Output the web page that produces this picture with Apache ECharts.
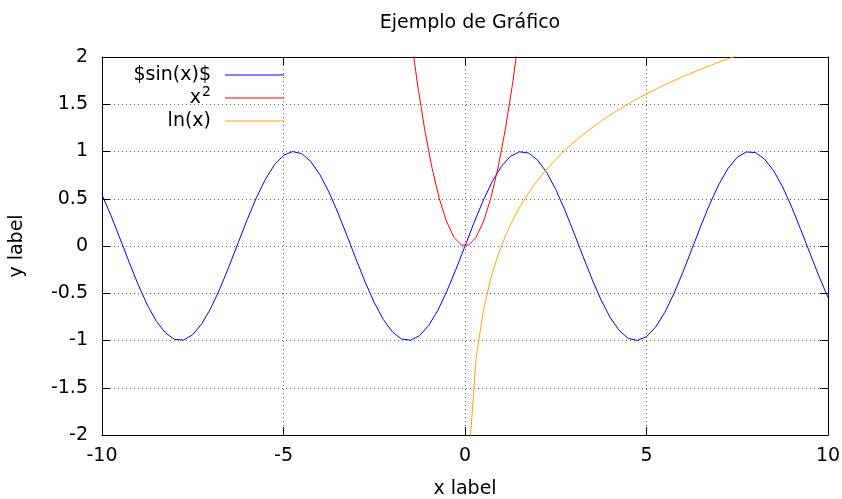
<!DOCTYPE html>
<html>
<head>
<meta charset="utf-8">
<script src="https://cdn.jsdelivr.net/npm/echarts@6/dist/echarts.min.js"></script>
<style>html,body{margin:0;padding:0;background:#fff;overflow:hidden}#c{width:842px;height:499px}</style>
</head>
<body>
<div id="c"></div>
<script>
// sin(x) sampled every 0.25
var sinX = [-10,-9.75,-9.5,-9.25,-9,-8.75,-8.5,-8.25,-8,-7.75,-7.5,-7.25,-7,-6.75,-6.5,-6.25,-6,-5.75,-5.5,-5.25,-5,-4.75,-4.5,-4.25,-4,-3.75,-3.5,-3.25,-3,-2.75,-2.5,-2.25,-2,-1.75,-1.5,-1.25,-1,-0.75,-0.5,-0.25,0,0.25,0.5,0.75,1,1.25,1.5,1.75,2,2.25,2.5,2.75,3,3.25,3.5,3.75,4,4.25,4.5,4.75,5,5.25,5.5,5.75,6,6.25,6.5,6.75,7,7.25,7.5,7.75,8,8.25,8.5,8.75,9,9.25,9.5,9.75,10];
var sinY = [0.544,0.319,0.075,-0.173,-0.412,-0.625,-0.798,-0.920,-0.989,-0.995,-0.938,-0.823,-0.657,-0.450,-0.215,0.033,0.279,0.508,0.706,0.859,0.959,0.999,0.978,0.895,0.757,0.572,0.351,0.108,-0.141,-0.382,-0.598,-0.778,-0.909,-0.984,-0.997,-0.949,-0.841,-0.682,-0.479,-0.247,0,0.247,0.479,0.682,0.841,0.949,0.997,0.984,0.909,0.778,0.598,0.382,0.141,-0.108,-0.351,-0.572,-0.757,-0.895,-0.978,-0.999,-0.959,-0.859,-0.706,-0.508,-0.279,-0.033,0.215,0.450,0.657,0.823,0.938,0.995,0.989,0.920,0.798,0.625,0.412,0.173,-0.075,-0.319,-0.544];
// x^2
var sqX = [-1.717,-1.515,-1.313,-1.111,-0.909,-0.707,-0.505,-0.303,-0.101,0.101,0.303,0.505,0.707,0.909,1.111,1.313,1.515,1.717];
var sqY = [2.948,2.296,1.724,1.235,0.826,0.500,0.255,0.092,0.010,0.010,0.092,0.255,0.500,0.826,1.235,1.724,2.296,2.948];
// ln(x)
var lnX = [0.101,0.303,0.505,0.707,0.909,1.111,1.313,1.515,1.717,1.919,2.121,2.323,2.525,2.727,2.929,3.131,3.333,3.535,3.737,3.939,4.141,4.343,4.545,4.747,4.949,5.152,5.354,5.556,5.758,5.960,6.162,6.364,6.566,6.768,6.970,7.172,7.374,7.576,7.778];
var lnY = [-2.293,-1.194,-0.683,-0.347,-0.095,0.105,0.272,0.416,0.541,0.652,0.752,0.843,0.926,1.003,1.075,1.141,1.204,1.263,1.318,1.371,1.421,1.469,1.514,1.558,1.599,1.639,1.678,1.715,1.751,1.785,1.818,1.851,1.882,1.912,1.942,1.970,1.998,2.025,2.051];

var seriesNames = ['$sin(x)$', 'x²', 'ln(x)'];
var seriesColors = ['#0000ff', '#ff0000', '#ffa500'];
var titleText = 'Ejemplo de Gráfico';
var xName = 'x label', yName = 'y label';

function pairs(xs, ys){ return xs.map(function(x,i){ return [x, ys[i]]; }); }

var FONT = 'DejaVu Sans';
var FS = 19;
var gridLine = {show:true, lineStyle:{color:'#666', width:1, type:[1,3]}};
var axisLine = {show:true, onZero:false, lineStyle:{color:'#000', width:1}};
var tick = {show:true, inside:true, length:8, lineStyle:{color:'#000', width:1}};

var chart = echarts.init(document.getElementById('c'), null, {renderer:'canvas'});
var legendRows = [75, 98, 121];
var legendGraphics = [];
seriesNames.forEach(function(n, i){
  var txt = i === 1 ? {text:'x{sup|2}', rich:{sup:{fontSize:14, verticalAlign:'top', padding:[0,0,12,1], fontFamily:FONT, fill:'#000'}}} : {text:n};
  legendGraphics.push({
    type:'text', x:211, y:legendRows[i],
    style: Object.assign({fontFamily:FONT, fontSize:FS, fill:'#000', textAlign:'right', textVerticalAlign:'middle'}, txt)
  });
  legendGraphics.push({
    type:'line', shape:{x1:225, y1:legendRows[i], x2:284, y2:legendRows[i]},
    style:{stroke:seriesColors[i], lineWidth:1}
  });
});

chart.setOption({
  animation:false,
  backgroundColor:'#fff',
  textStyle:{fontFamily:FONT},
  title:{text:titleText, left:465, top:9, textAlign:'center', textStyle:{fontFamily:FONT, fontSize:FS, fontWeight:'normal', color:'#000'}},
  grid:{left:102, right:14, top:57, bottom:64, show:false, containLabel:false, outerBoundsMode:'none'},
  xAxis:[
    {type:'value', min:-10, max:10, interval:5, position:'bottom', axisLine:axisLine, axisTick:tick, splitLine:gridLine,
     axisLabel:{fontFamily:FONT, fontSize:FS, color:'#000', margin:12},
     name:xName, nameLocation:'middle', nameGap:45, nameTextStyle:{fontFamily:FONT, fontSize:FS, color:'#000'}},
    {type:'value', min:-10, max:10, interval:5, position:'top', axisLine:axisLine, axisTick:tick, splitLine:{show:false}, axisLabel:{show:false}}
  ],
  yAxis:[
    {type:'value', min:-2, max:2, interval:0.5, position:'left', axisLine:axisLine, axisTick:tick, splitLine:gridLine,
     axisLabel:{fontFamily:FONT, fontSize:FS, color:'#000', margin:14},
     name:yName, nameLocation:'middle', nameGap:75, nameTextStyle:{fontFamily:FONT, fontSize:FS, color:'#000'}},
    {type:'value', min:-2, max:2, interval:0.5, position:'right', axisLine:axisLine, axisTick:tick, splitLine:{show:false}, axisLabel:{show:false}}
  ],
  graphic: legendGraphics,
  series:[
    {name:seriesNames[0], type:'line', data:pairs(sinX, sinY), showSymbol:false, symbol:'none', clip:true, lineStyle:{color:seriesColors[0], width:1}, itemStyle:{color:seriesColors[0]}},
    {name:seriesNames[1], type:'line', data:pairs(sqX, sqY), showSymbol:false, symbol:'none', clip:true, lineStyle:{color:seriesColors[1], width:1}, itemStyle:{color:seriesColors[1]}},
    {name:seriesNames[2], type:'line', data:pairs(lnX, lnY), showSymbol:false, symbol:'none', clip:true, lineStyle:{color:seriesColors[2], width:1}, itemStyle:{color:seriesColors[2]}}
  ]
});
</script>
</body>
</html>
